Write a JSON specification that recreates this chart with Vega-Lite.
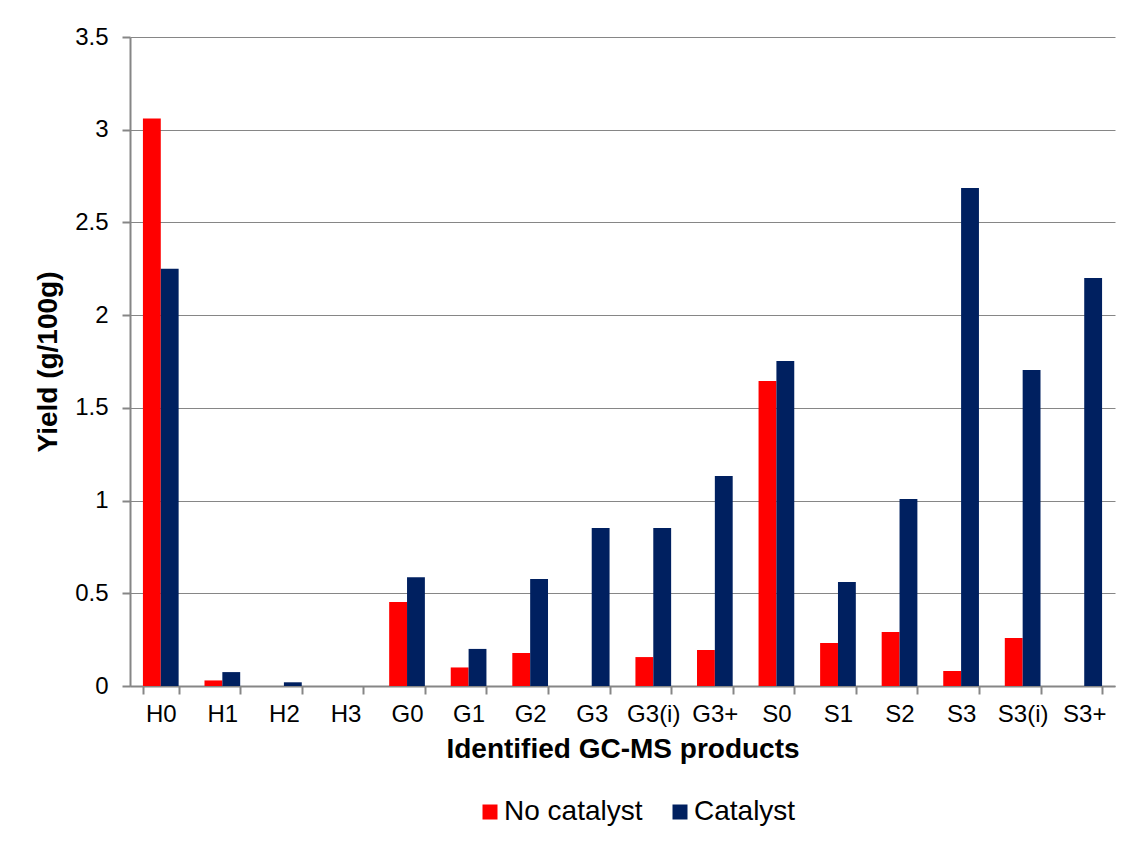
{
  "$schema": "https://vega.github.io/schema/vega-lite/v6.json",
  "width": 985,
  "height": 649,
  "autosize": {"type": "none"},
  "padding": {"left": 130, "top": 37, "right": 11, "bottom": 157},
  "background": "white",
  "config": {
    "font": "Liberation Sans",
    "view": {"stroke": null},
    "axis": {"labelFont": "Liberation Sans", "titleFont": "Liberation Sans", "labelColor": "black", "titleColor": "black"}
  },
  "data": {
    "values": [
      {"product": "H0", "series": "No catalyst", "yield": 3.06},
      {"product": "H0", "series": "Catalyst", "yield": 2.25},
      {"product": "H1", "series": "No catalyst", "yield": 0.03},
      {"product": "H1", "series": "Catalyst", "yield": 0.075},
      {"product": "H2", "series": "No catalyst", "yield": 0},
      {"product": "H2", "series": "Catalyst", "yield": 0.02},
      {"product": "H3", "series": "No catalyst", "yield": 0},
      {"product": "H3", "series": "Catalyst", "yield": 0},
      {"product": "G0", "series": "No catalyst", "yield": 0.453},
      {"product": "G0", "series": "Catalyst", "yield": 0.587},
      {"product": "G1", "series": "No catalyst", "yield": 0.10},
      {"product": "G1", "series": "Catalyst", "yield": 0.20},
      {"product": "G2", "series": "No catalyst", "yield": 0.178},
      {"product": "G2", "series": "Catalyst", "yield": 0.577},
      {"product": "G3", "series": "No catalyst", "yield": 0},
      {"product": "G3", "series": "Catalyst", "yield": 0.852},
      {"product": "G3(i)", "series": "No catalyst", "yield": 0.156},
      {"product": "G3(i)", "series": "Catalyst", "yield": 0.852},
      {"product": "G3+", "series": "No catalyst", "yield": 0.194},
      {"product": "G3+", "series": "Catalyst", "yield": 1.133},
      {"product": "S0", "series": "No catalyst", "yield": 1.645},
      {"product": "S0", "series": "Catalyst", "yield": 1.753},
      {"product": "S1", "series": "No catalyst", "yield": 0.232},
      {"product": "S1", "series": "Catalyst", "yield": 0.561},
      {"product": "S2", "series": "No catalyst", "yield": 0.291},
      {"product": "S2", "series": "Catalyst", "yield": 1.008},
      {"product": "S3", "series": "No catalyst", "yield": 0.081},
      {"product": "S3", "series": "Catalyst", "yield": 2.686},
      {"product": "S3(i)", "series": "No catalyst", "yield": 0.259},
      {"product": "S3(i)", "series": "Catalyst", "yield": 1.704},
      {"product": "S3+", "series": "No catalyst", "yield": 0},
      {"product": "S3+", "series": "Catalyst", "yield": 2.2}
    ]
  },
  "mark": {"type": "bar"},
  "encoding": {
    "x": {
      "field": "product",
      "type": "nominal",
      "sort": null,
      "scale": {"paddingInner": 0.42, "paddingOuter": 0.21},
      "axis": {
        "title": "Identified GC-MS products",
        "titleFontSize": 28,
        "titleFontWeight": "bold",
        "titlePadding": 9,
        "labelFontSize": 24,
        "labelAngle": 0,
        "labelPadding": 8,
        "tickBand": "extent",
        "tickSize": 8,
        "tickColor": "#868686",
        "tickWidth": 2,
        "domainColor": "#868686",
        "domainWidth": 2,
        "grid": false
      }
    },
    "xOffset": {"field": "series", "type": "nominal", "sort": ["No catalyst", "Catalyst"]},
    "y": {
      "field": "yield",
      "type": "quantitative",
      "scale": {"domain": [0, 3.5], "nice": false},
      "axis": {
        "title": "Yield (g/100g)",
        "titleFontSize": 28,
        "titleFontWeight": "bold",
        "titlePadding": 12,
        "values": [0, 0.5, 1, 1.5, 2, 2.5, 3, 3.5],
        "format": ".1~f",
        "labelFontSize": 24,
        "labelPadding": 14,
        "tickSize": 8,
        "tickColor": "#868686",
        "tickWidth": 2,
        "domainColor": "#868686",
        "domainWidth": 2,
        "grid": true,
        "gridColor": "#868686",
        "gridWidth": 1
      }
    },
    "color": {
      "field": "series",
      "type": "nominal",
      "scale": {"domain": ["No catalyst", "Catalyst"], "range": ["#FF0000", "#002060"]},
      "legend": {
        "title": null,
        "orient": "none",
        "legendX": 346,
        "legendY": 761,
        "direction": "horizontal",
        "labelFontSize": 28,
        "labelFont": "Liberation Sans",
        "labelColor": "black",
        "labelOffset": 0,
        "symbolType": "square",
        "symbolSize": 225,
        "symbolStrokeWidth": 0,
        "columnPadding": 23,
        "padding": 0
      }
    }
  }
}
